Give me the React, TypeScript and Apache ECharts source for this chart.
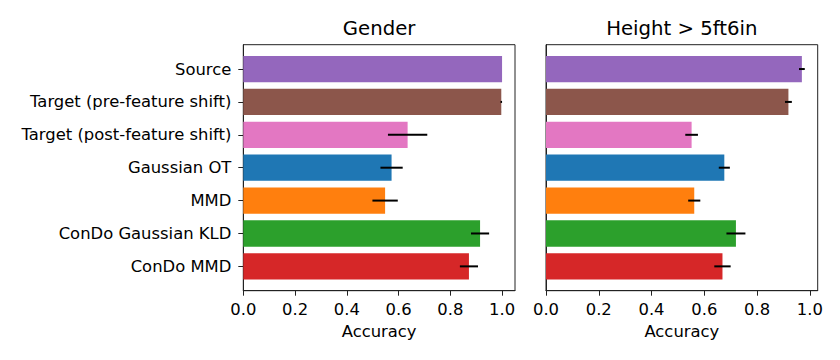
import React, { useEffect, useRef } from "react";
import * as echarts from "echarts";

const categories = [
  "Source",
  "Target (pre-feature shift)",
  "Target (post-feature shift)",
  "Gaussian OT",
  "MMD",
  "ConDo Gaussian KLD",
  "ConDo MMD",
];
const colors = ["#9467bd", "#8c564b", "#e377c2", "#1f77b4", "#ff7f0e", "#2ca02c", "#d62728"];

const genderMean = [1.0, 0.997, 0.635, 0.573, 0.548, 0.915, 0.872];
const genderErr = [0.0, 0.003, 0.076, 0.043, 0.049, 0.035, 0.035];
const heightMean = [0.97, 0.919, 0.552, 0.676, 0.562, 0.72, 0.669];
const heightErr = [0.011, 0.013, 0.024, 0.021, 0.023, 0.036, 0.031];

const titles = ["Gender", "Height > 5ft6in"];
const xTicks = [0, 0.2, 0.4, 0.6, 0.8, 1.0];
const xMax = [1.05, 1.03];

const FONT = "DejaVu Sans";

export default function App() {
  const ref = useRef<HTMLDivElement>(null);
  useEffect(() => {
    const chart = echarts.init(ref.current!, null, { renderer: "svg" });
    const idx = categories.map((_, i) => i);
    const gridLeft = [243.3, 546];
    const gridTop = 44.7;
    const gridW = 271.7;
    const gridH = 246;

    const renderItem = (params: any, api: any) => {
      const i = api.value(0);
      const v = api.value(1);
      const e = api.value(2);
      const p0 = api.coord([0, i - 0.4]);
      const p1 = api.coord([v, i + 0.4]);
      const c = api.coord([v, i]);
      const l = api.coord([v - e, i]);
      const r = api.coord([v + e, i]);
      const children: any[] = [
        {
          type: "rect",
          shape: { x: p0[0], y: Math.min(p0[1], p1[1]), width: p1[0] - p0[0], height: Math.abs(p1[1] - p0[1]) },
          style: { fill: colors[i] },
        },
      ];
      if (e > 0) {
        children.push({
          type: "line",
          shape: { x1: l[0], y1: c[1], x2: r[0], y2: c[1] },
          style: { stroke: "#000", lineWidth: 2 },
        });
      }
      return { type: "group", children };
    };

    const series = [genderMean, heightMean].map((means, k) => ({
      type: "custom",
      xAxisIndex: k,
      yAxisIndex: k,
      renderItem,
      encode: { x: 1, y: 0 },
      data: idx.map((i) => [i, means[i], (k === 0 ? genderErr : heightErr)[i]]),
      clip: false,
    }));

    chart.setOption({
      animation: false,
      textStyle: { fontFamily: FONT },
      grid: gridLeft.map((left) => ({
        left,
        top: gridTop,
        width: gridW,
        height: gridH,
        show: true,
        borderColor: "#222",
        borderWidth: 1,
        backgroundColor: "transparent",
      })),
      xAxis: [0, 1].map((k) => ({
        type: "value",
        gridIndex: k,
        min: 0,
        max: xMax[k],
        position: "bottom",
        name: "Accuracy",
        nameLocation: "middle",
        nameGap: 33,
        nameTextStyle: { fontFamily: FONT, fontSize: 16.4, color: "#000" },
        axisLine: { show: true, onZero: false, lineStyle: { color: "#222", width: 1 } },
        axisTick: { show: true, length: 5, customValues: xTicks, lineStyle: { color: "#222", width: 1 } },
        axisLabel: {
          customValues: xTicks,
          formatter: (v: number) => v.toFixed(1),
          fontFamily: FONT,
          fontSize: 16.4,
          color: "#000",
          margin: 10.5,
        },
        splitLine: { show: false },
      })),
      yAxis: [0, 1].map((k) => ({
        type: "value",
        gridIndex: k,
        min: -0.74,
        max: 6.74,
        inverse: true,
        position: "left",
        axisLine: { show: true, onZero: false, lineStyle: { color: "#222", width: 1 } },
        axisTick: { show: k === 0, length: 5, customValues: idx, lineStyle: { color: "#222", width: 1 } },
        axisLabel: {
          show: k === 0,
          customValues: idx,
          formatter: (v: number) => categories[Math.round(v)] ?? "",
          fontFamily: FONT,
          fontSize: 16.4,
          color: "#000",
          margin: 12,
        },
        splitLine: { show: false },
      })),
      graphic: titles.map((t, k) => ({
        type: "text",
        x: gridLeft[k] + gridW / 2,
        y: 28.5,
        style: {
          text: t,
          fontFamily: FONT,
          fontSize: 19.7,
          fill: "#000",
          align: "center",
          verticalAlign: "middle",
        },
      })),
      series,
    });
    return () => chart.dispose();
  }, []);
  return (
    <div
      ref={ref}
      style={{ position: "fixed", left: 0, top: 0, width: 840, height: 360, background: "#fff" }}
    />
  );
}
